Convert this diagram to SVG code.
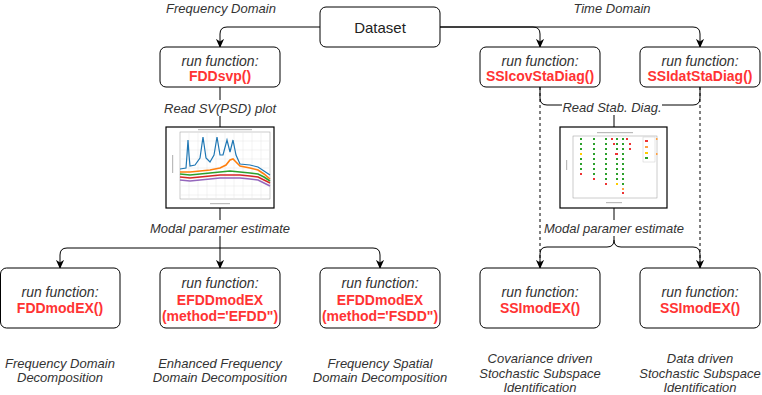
<svg xmlns="http://www.w3.org/2000/svg" width="762" height="395" viewBox="0 0 762 395">
<defs>
<marker id="arr" viewBox="0 0 10 10" refX="9" refY="5" markerWidth="9" markerHeight="9" markerUnits="userSpaceOnUse" orient="auto">
<path d="M0,0.5 L10,5 L0,9.5 L3,5 Z" fill="#000"/>
</marker>
<style>
.box{fill:#fff;stroke:#000;stroke-width:1}
.ln{fill:none;stroke:#000;stroke-width:1}
.dash{fill:none;stroke:#000;stroke-width:1;stroke-dasharray:3 3}
.rf{font-family:"Liberation Sans",Arial,sans-serif;font-size:14px;font-style:italic;fill:#333;text-anchor:middle;dominant-baseline:central}
.fn{font-family:"Liberation Sans",Arial,sans-serif;font-size:14px;font-weight:bold;fill:#ff3333;text-anchor:middle;dominant-baseline:central}
.lb{font-family:"Liberation Sans",Arial,sans-serif;font-size:13px;font-style:italic;fill:#333;text-anchor:middle;dominant-baseline:central}
.bg{fill:#fff}
.grid{stroke:#e6e6e6;stroke-width:0.5}
.tk{fill:#bbb}
</style>
</defs>

<g id="connectors">
<path class="ln" d="M320,27 H227 Q220,27 220,34 V47" marker-end="url(#arr)"/>
<path class="ln" d="M440,27 H533 Q540,27 540,34 V47" marker-end="url(#arr)"/>
<path class="ln" d="M440,27 H693 Q700,27 700,34 V47" marker-end="url(#arr)"/>
<path class="ln" d="M220,87 V127"/>
<path class="ln" d="M220,208 V248"/>
<path class="ln" d="M220,248 V268" marker-end="url(#arr)"/>
<path class="ln" d="M220,248 H67 Q60,248 60,255 V268" marker-end="url(#arr)"/>
<path class="ln" d="M220,248 H373 Q380,248 380,255 V268" marker-end="url(#arr)"/>
<path class="ln" d="M540,87 V98 Q540,105 547,105 H614 V127"/>
<path class="ln" d="M700,87 V98 Q700,105 693,105 H614"/>
<path class="dash" d="M540,87 V262"/>
<path class="dash" d="M700,87 V262"/>
<path class="ln" d="M614,208 V240 Q614,247 607,247 H547 Q540,247 540,254 V268" marker-end="url(#arr)"/>
<path class="ln" d="M614,240 Q614,247 621,247 H693 Q700,247 700,254 V268" marker-end="url(#arr)"/>
<rect class="bg" x="161" y="100" width="118" height="16"/>
<text class="lb" x="220" y="108">Read SV(PSD) plot</text>
<rect class="bg" x="147" y="220" width="146" height="16"/>
<text class="lb" x="220" y="228">Modal paramer estimate</text>
<rect class="bg" x="562" y="99" width="100" height="16"/>
<text class="lb" x="612" y="107">Read Stab. Diag.</text>
<rect class="bg" x="543" y="220" width="142" height="16"/>
<text class="lb" x="614" y="228">Modal paramer estimate</text>
</g>

<text class="lb" x="221" y="8">Frequency Domain</text>
<text class="lb" x="612" y="8">Time Domain</text>

<g id="dataset">
<rect class="box" x="320" y="7" width="120" height="40" rx="6"/>
<text x="380" y="27" style="font-family:'Liberation Sans',Arial,sans-serif;font-size:15px;fill:#222;text-anchor:middle;dominant-baseline:central">Dataset</text>
</g>

<g id="fddsvp">
<rect class="box" x="160" y="47" width="120" height="40" rx="6"/>
<text class="rf" x="220" y="61">run function:</text>
<text class="fn" x="220" y="76">FDDsvp()</text>
</g>

<g id="ssicov">
<rect class="box" x="480" y="47" width="120" height="40" rx="6"/>
<text class="rf" x="540" y="61">run function:</text>
<text class="fn" x="540" y="76">SSIcovStaDiag()</text>
</g>

<g id="ssidat">
<rect class="box" x="640" y="47" width="120" height="40" rx="6"/>
<text class="rf" x="700" y="61">run function:</text>
<text class="fn" x="700" y="76">SSIdatStaDiag()</text>
</g>

<g id="svplot">
<rect x="166" y="127" width="108" height="81" fill="#fff" stroke="#000" stroke-width="1.2"/>
<rect x="180" y="132" width="90" height="67" fill="#fff" stroke="#999" stroke-width="0.5"/>
<g class="grid">
<line x1="189" y1="132" x2="189" y2="199"/><line x1="198" y1="132" x2="198" y2="199"/><line x1="207" y1="132" x2="207" y2="199"/><line x1="216" y1="132" x2="216" y2="199"/><line x1="225" y1="132" x2="225" y2="199"/><line x1="234" y1="132" x2="234" y2="199"/><line x1="243" y1="132" x2="243" y2="199"/><line x1="252" y1="132" x2="252" y2="199"/><line x1="261" y1="132" x2="261" y2="199"/>
<line x1="180" y1="141" x2="270" y2="141"/><line x1="180" y1="150" x2="270" y2="150"/><line x1="180" y1="159" x2="270" y2="159"/><line x1="180" y1="168" x2="270" y2="168"/><line x1="180" y1="177" x2="270" y2="177"/><line x1="180" y1="186" x2="270" y2="186"/><line x1="180" y1="195" x2="270" y2="195"/>
</g>
<rect class="tk" x="198" y="129" width="54" height="1.2"/>
<rect class="tk" x="210" y="203" width="20" height="1.2"/>
<rect class="tk" x="172" y="155" width="1.2" height="18"/>
<polyline fill="none" stroke="#9467bd" stroke-width="1.6" points="180,180 190,181 200,180 210,179 220,178 230,178 240,178 250,179 258,180 264,183 270,186"/>
<polyline fill="none" stroke="#d62728" stroke-width="1.6" points="180,177 190,178 200,177 210,176 220,175 230,175 240,175 250,176 258,177 264,180 270,183"/>
<polyline fill="none" stroke="#2ca02c" stroke-width="1.6" points="180,174 190,175 200,174 210,173 220,172 230,171 240,172 250,173 258,174 264,177 270,181"/>
<polyline fill="none" stroke="#ff7f0e" stroke-width="1.6" points="180,172 190,172 200,171 210,170 220,168 226,165 230,160 233,159 236,162 240,166 250,168 258,170 264,174 270,179"/>
<polyline fill="none" stroke="#1f77b4" stroke-width="1.2" points="180,169 186,168 187,155 188,140 189,155 190,166 195,165 200,158 203,137 206,158 210,162 214,155 217,137 220,155 223,155 227,140 230,152 233,140 236,155 240,164 250,165 258,167 264,171 270,175"/>
</g>

<g id="stabdiag">
<rect x="560" y="127" width="107" height="81" fill="#fff" stroke="#000" stroke-width="1.2"/>
<rect x="573" y="136" width="84" height="62" fill="#fff" stroke="#999" stroke-width="0.5"/>
<rect class="tk" x="597" y="132" width="36" height="1.2"/>
<rect class="tk" x="606" y="202" width="16" height="1.2"/>
<rect class="tk" x="566" y="160" width="1.2" height="10"/>
<rect x="643" y="137" width="12" height="25" fill="#fff" stroke="#ccc" stroke-width="0.5"/>
<g fill="#2ca02c">
<rect x="580" y="138" width="2" height="2"/><rect x="580" y="143" width="2" height="2"/><rect x="580" y="148" width="2" height="2"/><rect x="580" y="158" width="2" height="2"/><rect x="580" y="163" width="2" height="2"/><rect x="580" y="168" width="2" height="2"/>
<rect x="593" y="138" width="2" height="2"/><rect x="593" y="143" width="2" height="2"/><rect x="593" y="148" width="2" height="2"/><rect x="593" y="153" width="2" height="2"/><rect x="593" y="158" width="2" height="2"/><rect x="593" y="163" width="2" height="2"/><rect x="593" y="168" width="2" height="2"/><rect x="593" y="173" width="2" height="2"/>
<rect x="605" y="138" width="2" height="2"/><rect x="605" y="143" width="2" height="2"/><rect x="605" y="148" width="2" height="2"/><rect x="605" y="153" width="2" height="2"/><rect x="605" y="158" width="2" height="2"/><rect x="605" y="163" width="2" height="2"/><rect x="605" y="168" width="2" height="2"/><rect x="605" y="173" width="2" height="2"/><rect x="605" y="178" width="2" height="2"/>
<rect x="616" y="138" width="2" height="2"/><rect x="616" y="143" width="2" height="2"/><rect x="616" y="148" width="2" height="2"/><rect x="616" y="158" width="2" height="2"/><rect x="616" y="163" width="2" height="2"/><rect x="616" y="168" width="2" height="2"/><rect x="616" y="173" width="2" height="2"/><rect x="616" y="178" width="2" height="2"/>
<rect x="622" y="138" width="2" height="2"/><rect x="622" y="143" width="2" height="2"/><rect x="622" y="148" width="2" height="2"/><rect x="622" y="153" width="2" height="2"/><rect x="622" y="158" width="2" height="2"/><rect x="622" y="163" width="2" height="2"/><rect x="622" y="168" width="2" height="2"/><rect x="622" y="173" width="2" height="2"/><rect x="622" y="178" width="2" height="2"/><rect x="622" y="183" width="2" height="2"/>
<rect x="645" y="157" width="3" height="2"/>
</g>
<g fill="#ee3333">
<rect x="580" y="173" width="2" height="2"/><rect x="593" y="178" width="2" height="2"/><rect x="605" y="183" width="2" height="2"/><rect x="622" y="192" width="2" height="2"/>
<rect x="611" y="138" width="2" height="2"/><rect x="613" y="143" width="2" height="2"/><rect x="615" y="153" width="3" height="2"/><rect x="626" y="138" width="2" height="2"/><rect x="629" y="143" width="2" height="2"/><rect x="629" y="148" width="2" height="2"/><rect x="645" y="140" width="3" height="2"/>
</g>
<g fill="#ffcc00"><rect x="580" y="153" width="2" height="2"/><rect x="616" y="183" width="2" height="2"/><rect x="645" y="152" width="3" height="2"/></g>
<g fill="#ff9f40"><rect x="622" y="188" width="2" height="2"/><rect x="645" y="146" width="3" height="2"/><rect x="656" y="138" width="1.5" height="2"/><rect x="656" y="153" width="1.5" height="2"/></g>
</g>

<g id="fddmodex">
<rect class="box" x="0.5" y="268" width="119.5" height="60" rx="6"/>
<text class="rf" x="60" y="292">run function:</text>
<text class="fn" x="60" y="308">FDDmodEX()</text>
</g>

<g id="efdd">
<rect class="box" x="160" y="268" width="120" height="60" rx="6"/>
<text class="rf" x="220" y="283">run function:</text>
<text class="fn" x="220" y="300">EFDDmodEX</text>
<text class="fn" x="220" y="316">(method='EFDD")</text>
</g>

<g id="fsdd">
<rect class="box" x="320" y="268" width="120" height="60" rx="6"/>
<text class="rf" x="380" y="283">run function:</text>
<text class="fn" x="380" y="300">EFDDmodEX</text>
<text class="fn" x="380" y="316">(method='FSDD")</text>
</g>

<g id="ssicovmod">
<rect class="box" x="480" y="268" width="120" height="60" rx="6"/>
<text class="rf" x="540" y="292">run function:</text>
<text class="fn" x="540" y="308">SSImodEX()</text>
</g>

<g id="ssidatmod">
<rect class="box" x="640" y="268" width="120" height="60" rx="6"/>
<text class="rf" x="700" y="292">run function:</text>
<text class="fn" x="700" y="308">SSImodEX()</text>
</g>

<g id="descriptions">
<text class="lb" x="60" y="363">Frequency Domain</text>
<text class="lb" x="60" y="377">Decomposition</text>
<text class="lb" x="220" y="363">Enhanced Frequency</text>
<text class="lb" x="220" y="377">Domain Decomposition</text>
<text class="lb" x="380" y="363">Frequency Spatial</text>
<text class="lb" x="380" y="377">Domain Decomposition</text>
<text class="lb" x="540" y="358">Covariance driven</text>
<text class="lb" x="540" y="373">Stochastic Subspace</text>
<text class="lb" x="540" y="387">Identification</text>
<text class="lb" x="700" y="358">Data driven</text>
<text class="lb" x="700" y="373">Stochastic Subspace</text>
<text class="lb" x="700" y="387">Identification</text>
</g>
</svg>
